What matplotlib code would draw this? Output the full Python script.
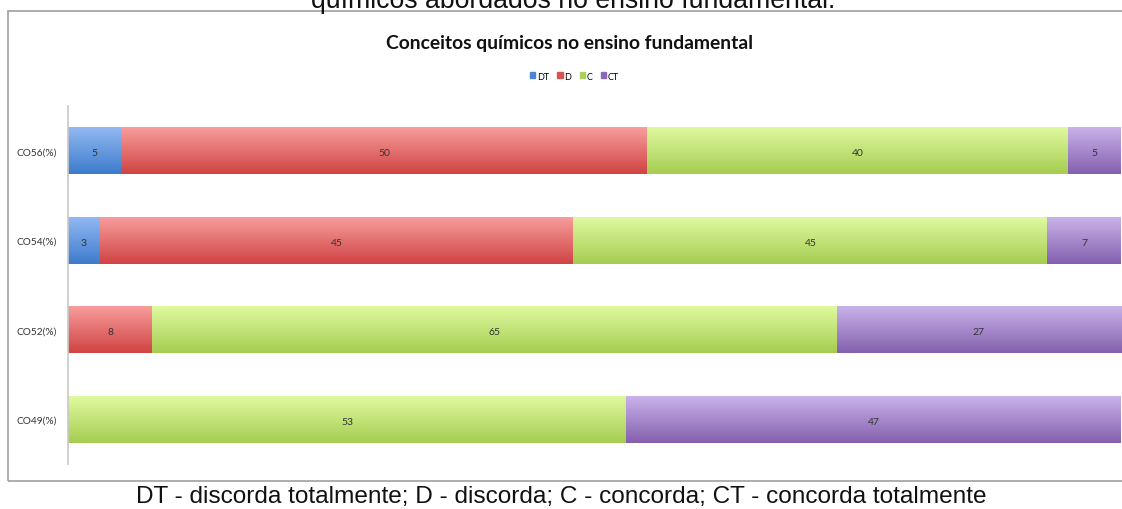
#!/usr/bin/env python3

import matplotlib
matplotlib.use("Agg")
import matplotlib.pyplot as plt
import numpy as np
from matplotlib.colors import LinearSegmentedColormap
from matplotlib.patches import Rectangle

categories = ["CO49(%)", "CO52(%)", "CO54(%)", "CO56(%)"]
series = ["DT", "D", "C", "CT"]
values = {
    "DT": [0, 0, 3, 5],
    "D": [0, 8, 45, 50],
    "C": [53, 65, 45, 40],
    "CT": [47, 27, 7, 5],
}
# (top, bottom) gradient colours per series
grad = {
    "DT": ("#92b8f2", "#3d7ccc"),
    "D": ("#f79d9c", "#d04443"),
    "C": ("#dff99f", "#a6cd52"),
    "CT": ("#c9b2ea", "#8460ae"),
}
legend_color = {"DT": "#4a86d4", "D": "#d9534f", "C": "#a9d15a", "CT": "#8c68b8"}

fig = plt.figure(figsize=(11.22, 5.10), dpi=100)
fig.patch.set_facecolor("white")

# document frame around the chart
fig.patches.append(Rectangle((8 / 1122, 28 / 510), 1.2, 470 / 510, transform=fig.transFigure,
                             fill=False, edgecolor="#a0a0a0", linewidth=1.2))

ax = fig.add_axes([68 / 1122, 45 / 510, 1053 / 1122, 358 / 510])

h = 0.525
y = np.arange(len(categories))
left = np.zeros(len(categories))
for s in series:
    vals = np.array(values[s], dtype=float)
    cmap = LinearSegmentedColormap.from_list(s, [grad[s][1], grad[s][0]])
    bars = ax.barh(y, vals, left=left, height=h, color=legend_color[s], label=s, linewidth=0)
    for b, v, l, yy in zip(bars, vals, left, y):
        if v <= 0:
            continue
        g = np.linspace(0, 1, 64).reshape(-1, 1)
        im = ax.imshow(g, cmap=cmap, aspect="auto", origin="lower",
                       extent=[l, l + v, yy - h / 2, yy + h / 2], zorder=2)
        im.set_clip_path(b)
        ax.text(l + v / 2, yy - 0.02, f"{int(v)}", ha="center", va="center",
                fontsize=7.5, color="#333333", family="Lato", zorder=3)
    left += vals

ax.set_xlim(0, 100)
ax.set_ylim(-0.5, 3.5)
ax.set_yticks(y)
ax.set_yticklabels(categories, fontsize=7.3, family="Lato", color="#333333")
ax.tick_params(axis="y", length=0, pad=8)
ax.set_xticks([])
for sp in ["top", "right", "bottom"]:
    ax.spines[sp].set_visible(False)
ax.spines["left"].set_color("#c8c8c8")
ax.spines["left"].set_linewidth(1.2)

fig.text(0.508, 1 - 43 / 510, "Conceitos químicos no ensino fundamental", ha="center",
         va="center", fontsize=13.9, fontweight="bold", family="Lato", color="#111111")

handles = [Rectangle((0, 0), 1, 1, color=legend_color[s]) for s in series]
fig.legend(handles, series, loc="center", bbox_to_anchor=(0.512, 1 - 77 / 510), ncol=4,
           frameon=False, prop={"family": "Lato", "size": 6.5},
           handlelength=0.6, handleheight=0.6, handletextpad=0.2, columnspacing=0.9)

fig.text(0.511, 1 - 8 / 510, "químicos abordados no ensino fundamental.", ha="center",
         va="baseline", fontsize=19.2, family="Liberation Sans", color="#111111")
fig.text(0.5, 1 - 497 / 510,
         "DT - discorda totalmente; D - discorda; C - concorda; CT - concorda totalmente",
         ha="center", va="center", fontsize=17.6, family="Liberation Sans", color="#111111")

plt.savefig("out.png", dpi=100)
